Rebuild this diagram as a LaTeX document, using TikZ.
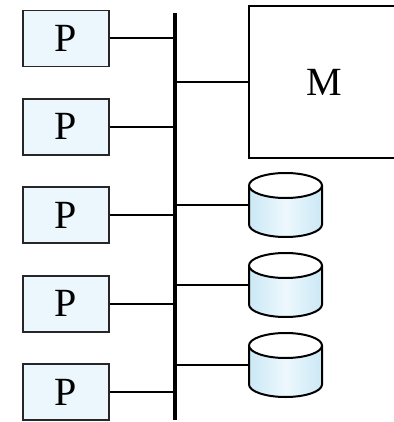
\documentclass[tikz,border=0pt]{standalone}
\usepackage{fontspec}
\setmainfont{Liberation Serif}
\usetikzlibrary{positioning,calc}
\definecolor{procblue}{HTML}{EBF6FD}
\definecolor{diskblue}{HTML}{CBE8F5}
\definecolor{disklight}{HTML}{EDF8FD}
\tikzstyle{link} = [line width=1pt]

\begin{document}
\begin{tikzpicture}[x=0.5pt,y=-0.5pt,
	proc/.style={rectangle, draw=black!85, line width=0.9pt, fill=procblue, minimum width=43pt, minimum height=28pt, inner sep=0pt, font=\fontsize{20}{24}\selectfont},
	mem/.style={rectangle, draw=black, line width=1pt, minimum width=75.5pt, minimum height=76pt, inner sep=0pt, font=\fontsize{20}{24}\selectfont},
	disk/.style={rectangle, minimum width=36.5pt, minimum height=32pt, inner sep=0pt}]
	\useasboundingbox (0,0) rectangle (394,422);
	
	% PROCESSORS
	
	\node[proc] (proc1) at (66,38.5) {P};
	\foreach \i [count=\j from 2] in {1,2,3,4}
		\node[proc, below=15.3pt of proc\i] (proc\j) {P};
	
	% BUS
	
	\coordinate (bustop) at (175,13);
	\coordinate (busbot) at (175,420);
	\foreach \i in {1,...,5}
		\draw[link] (proc\i.east) -- (proc\i.east -| bustop);
	
	% MEMORY
	
	\node[mem] (mem) at (324.5,82) {M};
	\draw[link] (mem.west -| bustop) -- (mem.west);
	
	% DISKS
	
	\foreach \i/\y in {1/205,2/285,3/365} {
		\node[disk] (disk\i) at (285.5,\y) {};
		\begin{scope}[shift={(disk\i.center)}]
			\shade[left color=diskblue, right color=diskblue, middle color=disklight]
				(-18.25pt,9.75pt) -- (-18.25pt,-9.75pt) arc[start angle=180, end angle=360, x radius=18.25pt, y radius=6.25pt] -- (18.25pt,9.75pt) -- cycle;
			\draw[line width=1pt]
				(-18.25pt,9.75pt) -- (-18.25pt,-9.75pt) arc[start angle=180, end angle=360, x radius=18.25pt, y radius=6.25pt] -- (18.25pt,9.75pt);
			\draw[line width=1pt, fill=white] (0pt,9.75pt) ellipse [x radius=18.25pt, y radius=6.25pt];
		\end{scope}
		\draw[link] (disk\i.west -| bustop) -- (disk\i.west);
	}
	
	\draw[line width=2.4pt] (bustop) -- (busbot);
	
\end{tikzpicture}
\end{document}
